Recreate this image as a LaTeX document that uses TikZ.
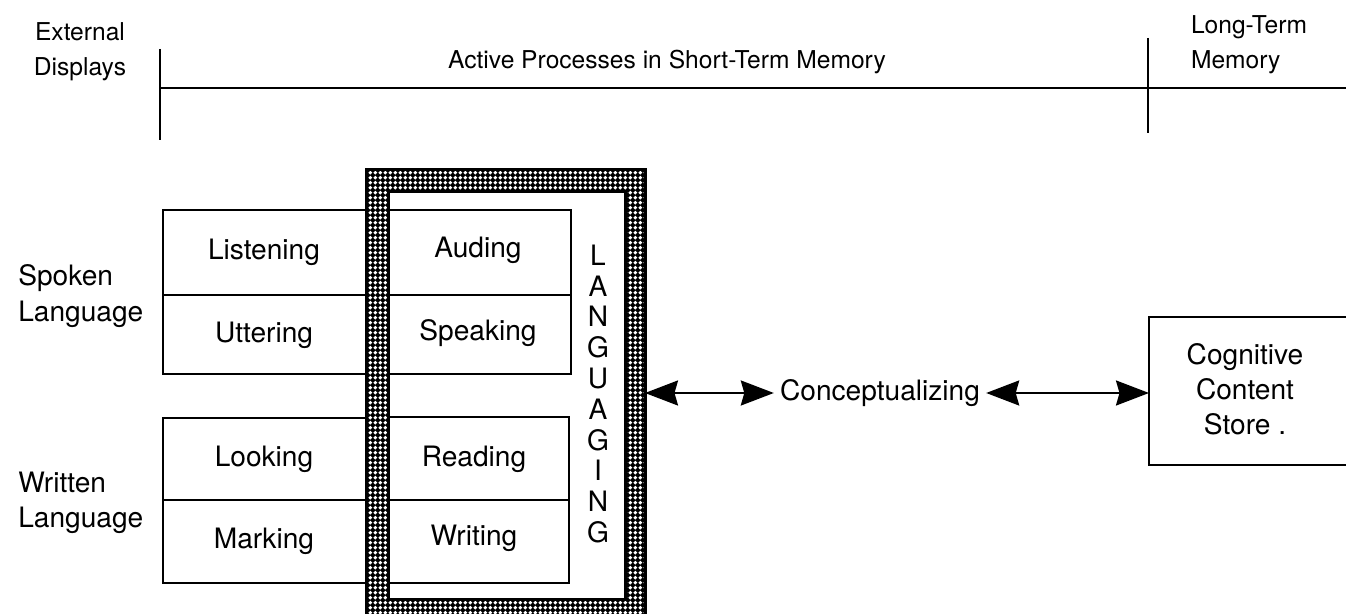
\documentclass[tikz,border=0pt]{standalone}
\usepackage{fontspec}
\setmainfont{TeX Gyre Heros}
\usetikzlibrary{arrows.meta, patterns}

\pgfdeclarepatternformonly{bandots}{\pgfqpoint{0pt}{0pt}}{\pgfqpoint{3pt}{3pt}}{\pgfqpoint{3pt}{3pt}}{%
    \pgfpathcircle{\pgfqpoint{1.5pt}{1.5pt}}{1.25pt}
    \pgfusepath{fill}}

\tikzset{
    lbl/.style={font=\fontsize{16}{20}\selectfont, inner sep=3pt},
    head/.style={font=\fontsize{14}{20}\selectfont, inner sep=0pt},
    dblarrow/.style={{Stealth[length=0.66cm,width=0.5cm,inset=0.07cm]}-{Stealth[length=0.66cm,width=0.5cm,inset=0.07cm]}, line width=0.045cm}
}

\begin{document}
\begin{tikzpicture}[x=0.02cm, y=-0.02cm, line width=0.04cm]
        \useasboundingbox (0,0) rectangle (1346,614);
        % header
        \draw (160,49) -- (160,140);
        \draw (160,88) -- (1346,88);
        \draw (1148,38) -- (1148,133);
        \node[head, align=center] (ext) at (80,52) {External\\Displays};
        \node[head] (stm) at (667,62) {Active Processes in Short-Term Memory};
        \node[head, align=left, anchor=west] (ltm) at (1190,45) {Long-Term\\Memory};
        % languaging band
        \fill[black, even odd rule] (366,170) rectangle (645,630) (388,192) rectangle (625,600);
        \fill[pattern=bandots, pattern color=white, even odd rule] (366,170) rectangle (645,630) (388,192) rectangle (625,600);
        \draw[line width=0.06cm] (366,630) -- (366,170) -- (645,170) -- (645,630);
        \draw[line width=0.06cm] (388,192) rectangle (625,600);
        % activity boxes
        \draw (366,210) -- (163,210) -- (163,374) -- (366,374);
        \draw (163,295) -- (366,295);
        \draw (388,210) -- (571,210) -- (571,374) -- (388,374);
        \draw (388,295) -- (571,295);
        \draw (366,418) -- (163,418) -- (163,583) -- (366,583);
        \draw (163,500) -- (366,500);
        \draw (388,417) -- (569,417) -- (569,583) -- (388,583);
        \draw (388,500) -- (569,500);
        \node[lbl] (listen) at (264,252) {Listening};
        \node[lbl] (utter) at (264,335) {Uttering};
        \node[lbl] (look) at (264,459) {Looking};
        \node[lbl] (mark) at (264,541) {Marking};
        \node[lbl] (aud) at (478,250) {Auding};
        \node[lbl] (speak) at (478,333) {Speaking};
        \node[lbl] (read) at (474,459) {Reading};
        \node[lbl] (write) at (474,538) {Writing};
        \node[lbl, align=left, anchor=west] (spoken) at (12,296) {Spoken\\Language};
        \node[lbl, align=left, anchor=west] (written) at (12,503) {Written\\Language};
        \foreach \c [count=\i from 0] in {L,A,N,G,U,A,G,I,N,G} {
            \pgfmathsetmacro{\ypos}{255 + 30.8*\i}
            \node[lbl, inner sep=0pt] (lang\i) at (598,\ypos) {\c};
        }
        % long-term store
        \draw (1346,317) -- (1149,317) -- (1149,465) -- (1346,465);
        \node[lbl, align=center] (store) at (1245,389) {Cognitive\\Content\\ Store .};
        \node[lbl] (conc) at (880,393) {Conceptualizing};
        \coordinate (bandR) at (645,393);
        \coordinate (storeL) at (1149,393);
        \draw[dblarrow] (bandR) -- (conc);
        \draw[dblarrow] (conc) -- (storeL);
    \end{tikzpicture}
\end{document}
